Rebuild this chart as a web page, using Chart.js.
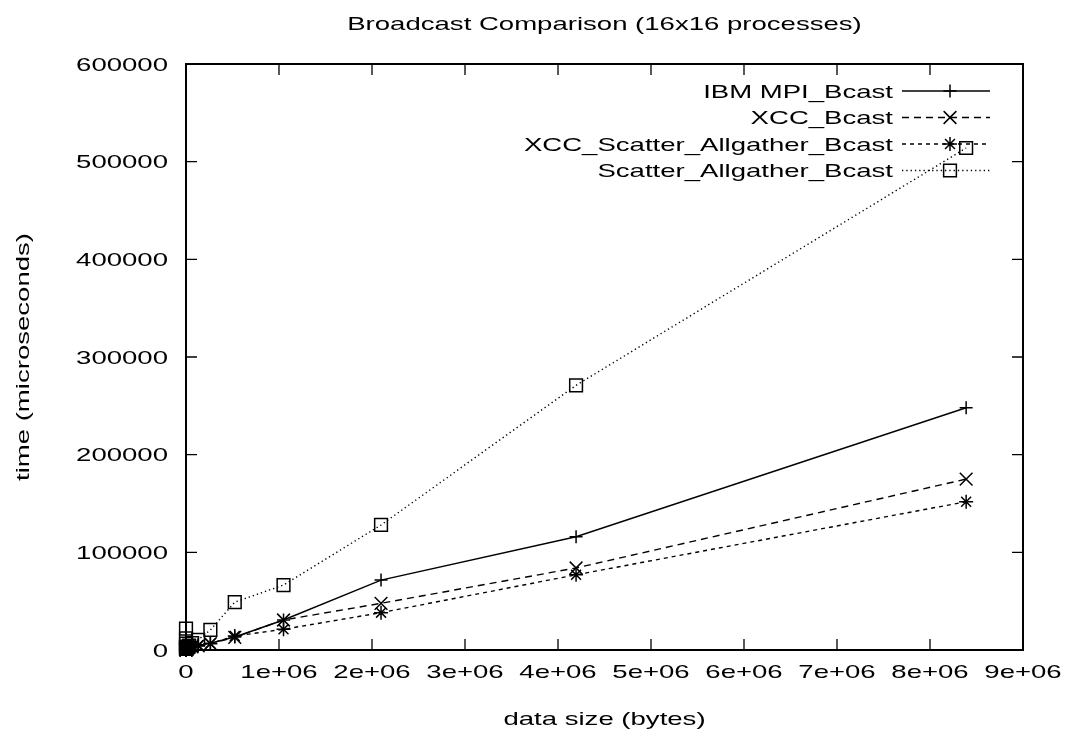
<!DOCTYPE html>
<html><head><meta charset="utf-8">
<script src="https://cdn.jsdelivr.net/npm/chart.js@4/dist/chart.umd.min.js"></script>
<style>html,body{margin:0;padding:0;background:#fff;}#wrap{width:1071px;height:735px;}</style>
</head><body><div id="wrap"><canvas id="c" width="1071" height="735"></canvas></div>
<script>
// ---- data ----
const sizes = [8,16,32,64,128,256,512,1024,2048,4096,8192,16384,32768,65536,131072,262144,524288,1048576,2097152,4194304,8388608];
const ibmBcast = [150,160,170,190,220,280,400,600,900,1300,1800,2300,2900,3500,4500,7000,13300,30700,71600,116000,248000];
const xccBcast = [120,130,140,160,190,250,350,550,800,1100,1500,2000,2600,3300,4300,6500,13000,30700,47800,84000,175000];
const xccScatterAllgather = [300,320,350,400,450,600,800,1100,1500,2000,2500,3000,3500,4200,5000,6500,14300,21200,38200,77000,151800];
const scatterAllgather = [22000,12000,6500,3500,2500,1500,1200,1100,1300,1700,2300,3000,4500,7000,10500,20500,49000,66500,128000,271000,514000];
const seriesNames = ['IBM MPI_Bcast','XCC_Bcast','XCC_Scatter_Allgather_Bcast','Scatter_Allgather_Bcast'];
const xTickValues = [0,1e6,2e6,3e6,4e6,5e6,6e6,7e6,8e6,9e6];
const xTickLabels = ['0','1e+06','2e+06','3e+06','4e+06','5e+06','6e+06','7e+06','8e+06','9e+06'];
const yTickValues = [0,100000,200000,300000,400000,500000,600000];
const yTickLabels = ['0','100000','200000','300000','400000','500000','600000'];
const chartTitle = 'Broadcast Comparison (16x16 processes)';
const xTitle = 'data size (bytes)';
const yTitle = 'time (microseconds)';

// ---- styling ----
const FONT = '19px "Liberation Sans", Arial, Helvetica, sans-serif';
const SX = 1.45;
const TICK = 11;

function pts(vals){ return sizes.map((s,i)=>({x:s,y:vals[i]})); }
function stretchText(ctx, s, x, y, align, rot){
  ctx.save();
  ctx.translate(x,y);
  if (rot) ctx.rotate(rot);
  ctx.scale(SX,1);
  ctx.font = FONT; ctx.fillStyle = '#000';
  ctx.textAlign = align; ctx.textBaseline = 'alphabetic';
  ctx.fillText(s,0,6.8);
  ctx.restore();
}

const styles = [
  {dash:[], style:'cross', r:6.5},
  {dash:[7,5], style:'crossRot', r:9},
  {dash:[4,4], style:'star', r:7},
  {dash:[1.3,3], style:'rect', r:9}
];
const series = [ibmBcast, xccBcast, xccScatterAllgather, scatterAllgather];
const datasets = series.map((v,i)=>({
  label: seriesNames[i], data: pts(v),
  borderColor:'#000', borderWidth:1.4, borderDash: styles[i].dash,
  pointStyle: styles[i].style, pointRadius: styles[i].r, pointBorderColor:'#000',
  pointBackgroundColor:'rgba(0,0,0,0)', pointBorderWidth:1.5, pointHoverRadius: styles[i].r,
  tension:0, fill:false, clip:false
}));

const gnuplotLook = {
  id:'gnuplotLook',
  afterDraw(chart){
    const ctx = chart.ctx, a = chart.chartArea;
    const xs = chart.scales.x, ys = chart.scales.y;
    ctx.save();
    ctx.strokeStyle = '#000'; ctx.lineWidth = 1.3; ctx.setLineDash([]);
    // inward ticks
    ctx.beginPath();
    xs.ticks.forEach((t,i)=>{ const px = xs.getPixelForTick(i);
      ctx.moveTo(px,a.bottom); ctx.lineTo(px,a.bottom-TICK);
      ctx.moveTo(px,a.top); ctx.lineTo(px,a.top+TICK); });
    ys.ticks.forEach((t,i)=>{ const py = ys.getPixelForTick(i);
      ctx.moveTo(a.left,py); ctx.lineTo(a.left+TICK,py);
      ctx.moveTo(a.right,py); ctx.lineTo(a.right-TICK,py); });
    ctx.stroke();
    // frame
    ctx.lineWidth = 2;
    ctx.strokeRect(a.left, a.top, a.right-a.left, a.bottom-a.top);
    // tick labels
    xs.ticks.forEach((t,i)=>{ stretchText(ctx, xTickLabels[i], xs.getPixelForTick(i), 671, 'center'); });
    ys.ticks.forEach((t,i)=>{ stretchText(ctx, yTickLabels[i], 168, ys.getPixelForTick(i), 'right'); });
    // titles
    stretchText(ctx, chartTitle, (a.left+a.right)/2, 23, 'center');
    stretchText(ctx, xTitle, (a.left+a.right)/2, 718, 'center');
    stretchText(ctx, yTitle, 22, (a.top+a.bottom)/2, 'center', -Math.PI/2);
    // legend
    chart.data.datasets.forEach((ds,i)=>{
      const y = 91 + i*26.5;
      stretchText(ctx, ds.label, 893, y, 'right');
      ctx.save();
      ctx.strokeStyle = '#000'; ctx.lineWidth = ds.borderWidth; ctx.setLineDash(ds.borderDash);
      ctx.beginPath(); ctx.moveTo(902,y); ctx.lineTo(990,y); ctx.stroke();
      ctx.setLineDash([]);
      ctx.fillStyle = 'rgba(0,0,0,0)'; ctx.lineWidth = ds.pointBorderWidth;
      Chart.helpers.drawPoint(ctx, {pointStyle: ds.pointStyle, radius: ds.pointRadius, borderWidth: ds.pointBorderWidth, rotation:0}, 950, y);
      ctx.restore();
    });
    ctx.restore();
  }
};

new Chart(document.getElementById('c'), {
  type:'line',
  data:{ datasets },
  options:{
    responsive:false, animation:false, devicePixelRatio:1,
    layout:{ padding:{ left:0, top:64, right:48, bottom:0 } },
    plugins:{ legend:{display:false}, title:{display:false}, tooltip:{enabled:false} },
    scales:{
      x:{ type:'linear', min:0, max:9e6,
          afterBuildTicks(s){ s.ticks = xTickValues.map(v=>({value:v})); },
          afterFit(s){ s.height = 85; },
          ticks:{display:false}, grid:{display:false}, border:{display:false} },
      y:{ type:'linear', min:0, max:600000,
          afterBuildTicks(s){ s.ticks = yTickValues.map(v=>({value:v})); },
          afterFit(s){ s.width = 186; },
          ticks:{display:false}, grid:{display:false}, border:{display:false} }
    }
  },
  plugins:[gnuplotLook]
});
</script></body></html>
